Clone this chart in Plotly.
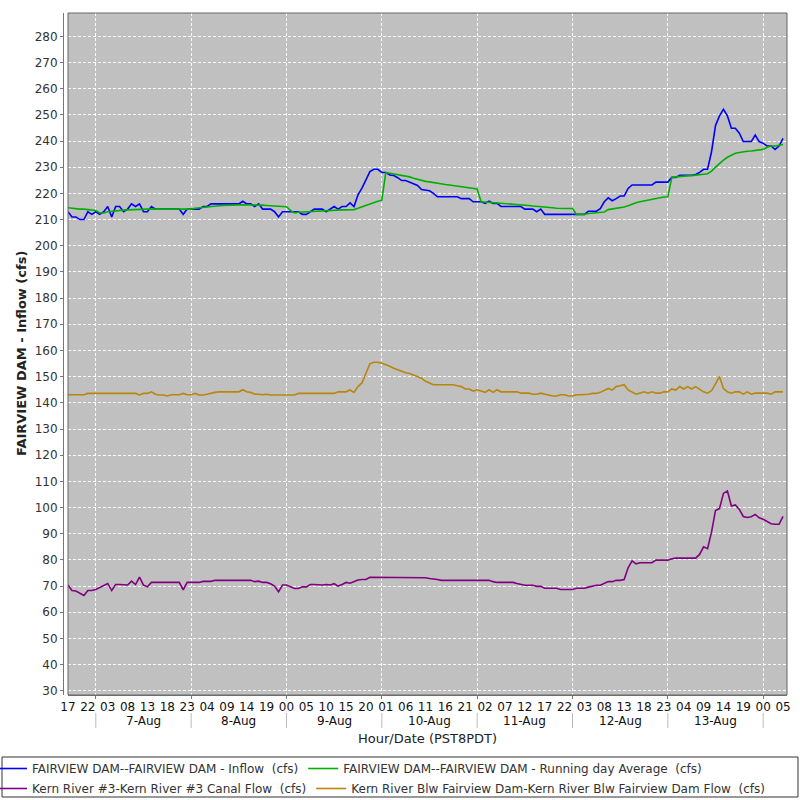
import pandas as pd
import plotly.graph_objects as go

# ---------------- data ----------------
start_time = "2024-08-06 17:00"
n_hours = 181
times = pd.date_range(start_time, periods=n_hours, freq="h")

inflow = [
    213, 211, 211, 210, 210, 213, 212, 213, 212, 213,
    215, 211, 215, 215, 213, 214, 216, 215, 216, 213,
    213, 215, 214, 214, 214, 214, 214, 214, 214, 212,
    214, 214, 214, 214, 215, 215, 216, 216, 216, 216,
    216, 216, 216, 216, 217, 216, 216, 215, 216, 214,
    214, 214, 213, 211, 213, 213, 213, 213, 213, 212,
    212, 213, 214, 214, 214, 213, 214, 215, 214, 215,
    215, 216.4, 215, 219.4, 222, 225, 228.3, 229.2, 229.2, 228,
    228, 227, 226.8, 226, 224.9, 224.9, 224.2, 223.5, 223, 221.5,
    221.3, 221, 220, 218.7, 218.7, 218.7, 218.7, 218.7, 218.7, 218,
    218, 218, 216.8, 216.8, 216.8, 216.2, 217, 216.2, 216.2, 215,
    215, 215, 215, 215, 215, 214, 214, 214, 213, 214,
    212, 212, 212, 212, 212, 212, 212, 212, 212, 212,
    212, 213.2, 213.2, 213.2, 214.2, 216.8, 218.3, 217.2, 218, 219,
    219, 221.9, 223.2, 223.2, 223.2, 223.2, 223.2, 223.2, 224.3, 224.3,
    224.3, 224.3, 226.1, 226.1, 226.9, 226.9, 226.9, 226.9, 227.2, 228,
    229.2, 229.2, 235.9, 245.9, 249.6, 252.1, 249.6, 244.9, 244.9, 243,
    239.8, 239.8, 239.8, 242.3, 239.8, 239.1, 238.1, 238.1, 236.8, 238.1, 241,
]

running_avg = [
    214.5, 214.3, 214.2, 214, 214, 213.8, 213.6, 213.5, 212.5, 212.5,
    213, 213.2, 213.4, 213.5, 213.6, 213.7, 213.8, 213.9, 214, 214,
    214, 214, 214, 214, 214, 214, 214, 214, 214, 214,
    214, 214, 214.3, 214.5, 214.7, 214.8, 215, 215.2, 215.3, 215.4,
    215.5, 215.5, 215.6, 215.6, 215.6, 215.6, 215.6, 215.7, 215.7, 215.5,
    215.4, 215.3, 215.2, 215, 215, 214.9, 213.5, 212.5, 212.8, 212.9,
    212.9, 213, 213.1, 213.3, 213.4, 213.5, 213.5, 213.6, 213.6, 213.7,
    213.7, 213.8, 213.8, 214.3, 214.9, 215.5, 216, 216.5, 217, 217.4,
    228, 227.7, 227.4, 227.2, 226.9, 226.7, 226.3, 225.8, 225.4, 224.9,
    224.6, 224.4, 224.1, 223.9, 223.6, 223.4, 223.2, 223, 222.7, 222.5,
    222.3, 222.1, 221.9, 221.7, 216.8, 216.7, 216.5, 216.4, 216.3, 216.2,
    216.1, 215.9, 215.8, 215.7, 215.6, 215.5, 215.4, 215.2, 215.1, 214.9,
    214.8, 214.6, 214.5, 214.3, 214.2, 214.2, 214.2, 214.2, 212, 212,
    212, 212.3, 212.4, 212.6, 212.8, 212.9, 213.8, 214, 214.2, 214.5,
    214.8, 215.3, 216, 216.4, 216.8, 217.1, 217.5, 217.8, 218.2, 218.4,
    218.6, 218.7, 226.1, 226.3, 226.5, 226.6, 226.7, 226.8, 226.9, 227.1,
    227.3, 227.5, 228.5, 230, 231.5, 232.7, 233.8, 234.6, 235.3, 235.6,
    235.9, 236.1, 236.2, 236.4, 236.6, 236.8, 237.6, 238.1, 238.1, 238.4, 238.7,
]

canal_flow = [
    70.4, 68.3, 68.1, 67.2, 66.4, 68.3, 68.3, 68.7, 69.4, 70.4,
    71, 68.3, 70.6, 70.6, 70.4, 70.4, 71.9, 70.6, 73.4, 70.4,
    69.7, 71.4, 71.4, 71.4, 71.4, 71.4, 71.4, 71.4, 71.4, 68.6,
    71.4, 71.4, 71.4, 71.4, 71.8, 71.8, 71.8, 72.2, 72.2, 72.2,
    72.2, 72.2, 72.2, 72.2, 72.2, 72.2, 72.2, 71.7, 71.9, 71.4,
    71.4, 70.9, 70, 67.8, 70.4, 70.4, 69.7, 69.1, 69.1, 69.7,
    69.7, 70.6, 70.6, 70.4, 70.4, 70.6, 70.4, 70.9, 70, 70.6,
    71.4, 71.1, 71.7, 72.3, 72.5, 72.5, 73.4, 73.4, 73.4, 73.4,
    73.4, 73.4, 73.4, 73.4, 73.4, 73.4, 73.4, 73.4, 73.4, 73.4,
    73.2, 72.9, 72.8, 72.5, 72.2, 72.2, 72.2, 72.2, 72.2, 72.2,
    72.2, 72.2, 72.2, 72.2, 72.2, 72.2, 72.2, 71.7, 71.4, 71.4,
    71.4, 71.4, 71.4, 71, 70.6, 70.3, 70.3, 70.3, 69.9, 69.9,
    69.2, 69.2, 69.2, 69.2, 68.7, 68.7, 68.7, 68.7, 69.2, 69.2,
    69.2, 69.6, 70, 70.3, 70.3, 70.9, 71.7, 71.7, 72.2, 72.2,
    72.5, 77, 79.6, 78.5, 78.9, 78.9, 78.9, 78.9, 79.9, 79.9,
    79.9, 79.9, 80.4, 80.7, 80.7, 80.7, 80.7, 80.7, 80.7, 82.1,
    85, 84.3, 90.6, 98.9, 99.6, 105.4, 106.3, 100.6, 101, 99.3,
    96.6, 96.2, 96.5, 97.4, 96.1, 95.5, 94.6, 93.8, 93.6, 93.6, 96.6,
]

blw_dam_flow = [
    143.1, 143.1, 143.1, 143.1, 143.1, 143.6, 143.6, 143.6, 143.6, 143.6,
    143.6, 143.6, 143.6, 143.6, 143.6, 143.6, 143.6, 143.6, 143, 143.6,
    143.6, 144.2, 143.3, 143, 143, 142.6, 143.1, 143.1, 143.1, 143.6,
    143.1, 143.1, 143.6, 143, 143, 143.3, 143.7, 144, 144.2, 144.2,
    144.2, 144.2, 144.2, 144.2, 145, 144.2, 144, 143.3, 143.3, 143.1,
    143.3, 143, 143, 143, 143, 143, 143, 143, 143.6, 143.6,
    143.6, 143.6, 143.6, 143.6, 143.6, 143.6, 143.6, 143.6, 144.2, 144.2,
    144.2, 144.9, 144, 146.2, 147.6, 151.3, 154.9, 155.5, 155.5, 155.1,
    154.6, 154, 153.2, 152.6, 151.9, 151.5, 151.2, 150.6, 150, 149.4,
    148.2, 147.7, 146.9, 146.9, 146.9, 146.9, 146.9, 146.9, 146.5, 146.2,
    145.3, 145.3, 144.5, 145, 144.5, 144, 145, 144, 145, 144.2,
    144.2, 144.2, 144.2, 144.2, 143.7, 143.7, 143.7, 143.3, 143.3, 143.7,
    143.3, 143, 142.6, 142.6, 143.1, 143.1, 142.6, 142.6, 143.1, 143.1,
    143.1, 143.3, 143.6, 143.6, 144, 144.6, 145.5, 144.9, 146.2, 146.5,
    146.9, 144.9, 144.2, 143.3, 143.7, 144.2, 143.7, 144.2, 143.7, 143.7,
    144.2, 144.2, 145.3, 144.9, 146.2, 145.3, 146.2, 145.3, 146.2, 145.3,
    144.2, 143.7, 144.6, 147.2, 150.1, 145.5, 144.2, 143.7, 144.2, 144.2,
    143.3, 144.2, 143.3, 143.7, 143.7, 143.7, 143.7, 143.3, 144.2, 144.2, 144.2,
]

for name, s in [("inflow", inflow), ("running_avg", running_avg),
                ("canal_flow", canal_flow), ("blw_dam_flow", blw_dam_flow)]:
    assert len(s) == n_hours, f"{name} has {len(s)}"

series_names = [
    "FAIRVIEW DAM--FAIRVIEW DAM - Inflow  (cfs)",
    "FAIRVIEW DAM--FAIRVIEW DAM - Running day Average  (cfs)",
    "Kern River #3-Kern River #3 Canal Flow  (cfs)",
    "Kern River Blw Fairview Dam-Kern River Blw Fairview Dam Flow  (cfs)",
]
series_colors = ["#0000FF", "#00B000", "#800080", "#B8860B"]
series_legend = ["legend", "legend", "legend2", "legend2"]

x_start = pd.Timestamp("2024-08-06 17:00")
x_end = pd.Timestamp("2024-08-14 06:00")
y_ticks = list(range(30, 290, 10))
y_range = [28.4, 288.9]

hour_ticks = pd.date_range(x_start, x_end, freq="5h")
hour_labels = [t.strftime("%H") for t in hour_ticks]
midnights = pd.date_range("2024-08-07", "2024-08-14", freq="D")
day_labels = [d.strftime("%-d-%b") for d in midnights[:-1]]
day_centers = [d + pd.Timedelta(hours=12) for d in midnights[:-1]]

# ---------------- figure ----------------
FONT = "DejaVu Sans"
GRID_DASH = "3px,2px"
fig = go.Figure()
for vals, name, col, lg in zip([inflow, running_avg, canal_flow, blw_dam_flow],
                               series_names, series_colors, series_legend):
    fig.add_trace(go.Scatter(x=times, y=vals, mode="lines", name=name, legend=lg,
                             line=dict(color=col, width=1.6)))

W, H = 800, 800
ML, MR, MT, MB = 63, 13, 13, 105
pw = W - ML - MR
ph = H - MT - MB


def px_x(p):
    return (p - ML) / pw


def px_y(p):
    return (H - MB - p) / ph


legend_common = dict(
    orientation="h", x=px_x(-8), xanchor="left", yanchor="top",
    xref="paper", yref="paper",
    font=dict(family=FONT, size=12, color="#333333"),
    bgcolor="rgba(0,0,0,0)", borderwidth=0, tracegroupgap=0,
)

fig.update_layout(
    width=W, height=H,
    margin=dict(l=ML, r=MR, t=MT, b=MB, pad=0, autoexpand=False),
    paper_bgcolor="white",
    plot_bgcolor="#C0C0C0",
    font=dict(family=FONT, size=12, color="#333333"),
    showlegend=True,
    legend=dict(y=px_y(754), **legend_common),
    legend2=dict(y=px_y(774), **legend_common),
    xaxis=dict(
        type="date",
        domain=[5 / pw, 1],
        range=[x_start, x_end],
        tickmode="array",
        tickvals=list(hour_ticks),
        ticktext=hour_labels,
        ticks="",
        showgrid=False,
        zeroline=False,
        showline=True, linecolor="#777777", linewidth=1,
        tickfont=dict(family=FONT, size=12, color="#111111"),
        minor=dict(tickmode="array", tickvals=list(midnights), ticks="outside",
                   ticklen=3, tickcolor="#777777", showgrid=True,
                   gridcolor="white", griddash=GRID_DASH, gridwidth=1),
        ticklabelstandoff=1,
        fixedrange=True,
    ),
    yaxis=dict(
        range=y_range,
        tickmode="array",
        tickvals=y_ticks,
        ticks="outside", ticklen=3, tickcolor="#777777",
        showgrid=True, gridcolor="white", griddash=GRID_DASH, gridwidth=1,
        zeroline=False,
        showline=True, linecolor="#777777", linewidth=1,
        anchor="free", position=0,
        tickfont=dict(family=FONT, size=12, color="#333333"),
        fixedrange=True,
    ),
)

# plot frame
fig.add_shape(type="rect", xref="x domain", yref="y domain", x0=0, x1=1, y0=0, y1=1,
              line=dict(color="#666666", width=1), layer="above")

# day separators and labels below the hour labels
for d in midnights:
    fig.add_shape(type="line", xref="x", yref="paper", x0=d, x1=d,
                  y0=px_y(713), y1=px_y(728), line=dict(color="#BBBBBB", width=1))
for c, lab in zip(day_centers, day_labels):
    fig.add_annotation(x=c, y=px_y(721), xref="x", yref="paper", text=lab,
                       showarrow=False, font=dict(family=FONT, size=12, color="#111111"),
                       yanchor="middle")

# axis titles
fig.add_annotation(x=0.5, y=px_y(738), xref="x domain", yref="paper",
                   text="Hour/Date (PST8PDT)", showarrow=False,
                   font=dict(family=FONT, size=13, color="#222222"), yanchor="middle")
fig.add_annotation(x=px_x(21), y=0.5, xref="paper", yref="paper",
                   text="<b>FAIRVIEW DAM - Inflow (cfs)</b>", textangle=-90, showarrow=False,
                   font=dict(family=FONT, size=13, color="#222222"), xanchor="center")

# legend frame
fig.add_shape(type="rect", xref="paper", yref="paper",
              x0=px_x(2), x1=px_x(798), y0=px_y(797), y1=px_y(757),
              line=dict(color="#333333", width=1))

fig.write_html("out.html", config={"displayModeBar": False},
               post_script="document.body.style.margin='0px';")
